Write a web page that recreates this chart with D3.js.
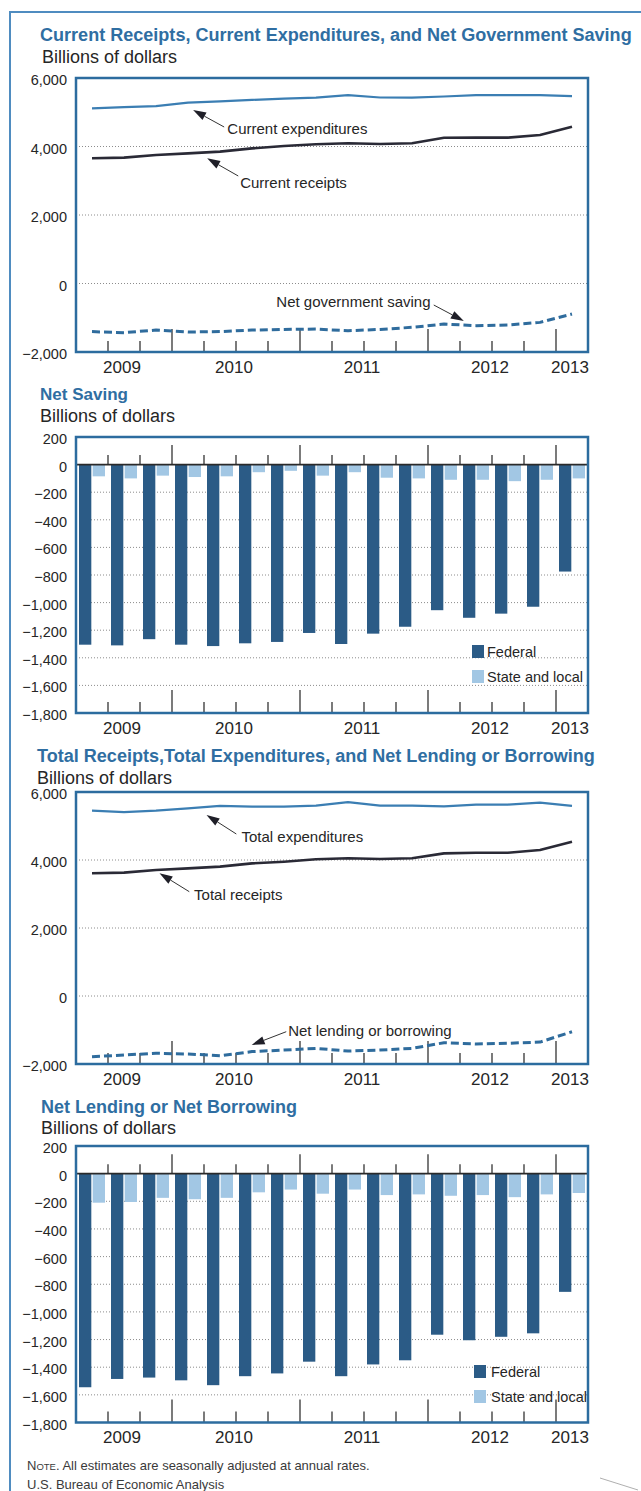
<!DOCTYPE html>
<html>
<head>
<meta charset="utf-8">
<script src="https://cdn.jsdelivr.net/npm/d3@7"></script>
<style>
  body { margin: 0; background: #fff; }
  svg { display: block; font-family: "Liberation Sans", Arial, sans-serif; }
</style>
</head>
<body>
<svg id="chart"></svg>
<script>
// quarters shown, 2009Q2 .. 2013Q1
const quarters = ["2009Q2", "2009Q3", "2009Q4", "2010Q1", "2010Q2", "2010Q3", "2010Q4", "2011Q1",
                  "2011Q2", "2011Q3", "2011Q4", "2012Q1", "2012Q2", "2012Q3", "2012Q4", "2013Q1"];
const series = ["Federal", "State and local"];

// panel 1 (billions of dollars)
const currentExpenditures = [5115, 5150, 5180, 5280, 5320, 5360, 5400, 5425, 5500, 5430, 5425, 5460, 5500, 5500, 5500, 5470];
const currentReceipts = [3655, 3675, 3750, 3800, 3850, 3945, 4015, 4065, 4095, 4075, 4095, 4255, 4260, 4260, 4335, 4580];
const netGovSaving = [-1405, -1435, -1360, -1415, -1405, -1360, -1340, -1330, -1380, -1340, -1280, -1185, -1230, -1210, -1135, -890];

// panel 2
const netSavingFederal = [-1305, -1310, -1265, -1305, -1315, -1295, -1285, -1220, -1300, -1225, -1175, -1055, -1110, -1080, -1030, -775];
const netSavingState = [-85, -100, -80, -90, -85, -55, -45, -80, -55, -95, -100, -110, -110, -120, -110, -100];

// panel 3
const totalExpenditures = [5450, 5410, 5450, 5520, 5590, 5570, 5570, 5600, 5700, 5600, 5600, 5580, 5630, 5630, 5690, 5590];
const totalReceipts = [3610, 3630, 3705, 3755, 3805, 3900, 3950, 4020, 4050, 4030, 4050, 4195, 4215, 4215, 4295, 4540];
const netLending = [-1785, -1735, -1685, -1705, -1755, -1635, -1590, -1540, -1620, -1590, -1540, -1375, -1410, -1390, -1355, -1050];

// panel 4
const netLendingFederal = [-1545, -1485, -1475, -1495, -1530, -1465, -1445, -1360, -1465, -1380, -1350, -1165, -1205, -1180, -1155, -855];
const netLendingState = [-210, -205, -175, -185, -175, -135, -115, -145, -115, -155, -150, -160, -155, -170, -150, -140];

const lineTicks = [-2000, 0, 2000, 4000, 6000];
const barTicks = [200, 0, -200, -400, -600, -800, -1000, -1200, -1400, -1600, -1800];

const titleBlue = "#2f6ea2";
const frameBlue = "#2c6c9f";
const ink = "#262626";
const fedColor = "#2b5b86";
const stateColor = "#a2c7e4";

const W = 641, H = 1491;
const svg = d3.select("#chart").attr("width", W).attr("height", H);
svg.append("rect").attr("width", W).attr("height", H).attr("fill", "#fff");

// outer page frame
svg.append("path")
  .attr("d", `M10,${H}V12H${W}`)
  .attr("fill", "none")
  .attr("stroke", "#4f8cc0")
  .attr("stroke-width", 2);

const x = d3.scaleBand().domain(quarters).range([76, 588]);
const xq = q => x(quarters[0]) + x.bandwidth() / 2 + q * x.step();
const fmt = d3.format(",");

function header(title, tx, ty, width, sx, sy) {
  const t = svg.append("text")
    .attr("x", tx).attr("y", ty)
    .attr("font-family", "'Liberation Sans Narrow', 'Liberation Sans', sans-serif")
    .attr("font-weight", "bold")
    .attr("font-size", 20)
    .attr("fill", titleBlue)
    .text(title);
  // size the title so it spans the same width as in the print
  const w = t.node().getComputedTextLength();
  if (w > 0) t.attr("font-size", Math.min(22, 20 * width / w));
  svg.append("text")
    .attr("x", sx).attr("y", sy)
    .attr("font-size", 18)
    .attr("fill", ink)
    .text("Billions of dollars");
}

function axes(g, y, ticks, zeroTicks) {
  const [bottom, top] = y.range();

  // dotted grid
  g.append("g")
    .selectAll("line")
    .data(ticks.filter(t => t !== y.domain()[0] && t !== y.domain()[1] && !(zeroTicks && t === 0)))
    .join("line")
    .attr("x1", 76).attr("x2", 588)
    .attr("y1", d => y(d)).attr("y2", d => y(d))
    .attr("stroke", "#8c8c8c")
    .attr("stroke-width", 1)
    .attr("stroke-dasharray", "1,2");

  const ax = g.append("g")
    .attr("transform", "translate(76,0)")
    .call(d3.axisLeft(y).tickValues(ticks).tickSize(0).tickPadding(9).tickFormat(fmt));
  ax.select(".domain").remove();
  ax.selectAll("text")
    .attr("font-size", 14.5)
    .attr("font-family", "'Liberation Sans', Arial, sans-serif")
    .attr("fill", ink)
    .attr("dy", "0.45em");

  // quarter ticks at the bottom, taller at year breaks
  const edges = quarters.slice(1);
  g.append("g")
    .selectAll("line")
    .data(edges)
    .join("line")
    .attr("x1", d => x(d)).attr("x2", d => x(d))
    .attr("y1", bottom)
    .attr("y2", d => bottom - (d.endsWith("Q1") ? 23 : 11))
    .attr("stroke", "#222")
    .attr("stroke-width", 1.2);

  if (zeroTicks) {
    g.append("g")
      .selectAll("line")
      .data(edges)
      .join("line")
      .attr("x1", d => x(d)).attr("x2", d => x(d))
      .attr("y1", y(0))
      .attr("y2", d => y(0) - (d.endsWith("Q1") ? 19.5 : 9.5))
      .attr("stroke", "#222")
      .attr("stroke-width", 1.2);
  }

  // year labels centred under their quarters
  const years = d3.groups(quarters, d => d.slice(0, 4));
  g.append("g")
    .selectAll("text")
    .data(years)
    .join("text")
    .attr("x", ([, qs]) => (x(qs[0]) + x(qs[qs.length - 1]) + x.bandwidth()) / 2 - 2)
    .attr("y", bottom + 20.5)
    .attr("text-anchor", "middle")
    .attr("font-size", 17)
    .attr("fill", ink)
    .text(([yr]) => yr);
}

function frame(g, y) {
  const [bottom, top] = y.range();
  g.append("rect")
    .attr("x", 76).attr("y", top)
    .attr("width", 512).attr("height", bottom - top)
    .attr("fill", "none")
    .attr("stroke", frameBlue)
    .attr("stroke-width", 2.5);
}

function arrow(g, tail, tip) {
  const [x1, y1] = tail, [x2, y2] = tip;
  const a = Math.atan2(y2 - y1, x2 - x1);
  const L = 13, hw = 4.2;
  const bx = x2 - L * Math.cos(a), by = y2 - L * Math.sin(a);
  g.append("line")
    .attr("x1", x1).attr("y1", y1).attr("x2", bx).attr("y2", by)
    .attr("stroke", "#333").attr("stroke-width", 1);
  g.append("path")
    .attr("d", `M${x2},${y2}L${bx + hw * Math.sin(a)},${by - hw * Math.cos(a)}L${bx - hw * Math.sin(a)},${by + hw * Math.cos(a)}Z`)
    .attr("fill", "#1f1f28");
}

function linePanel(y, lines, notes) {
  const g = svg.append("g");
  axes(g, y, lineTicks, false);

  const line = d3.line().x((d, i) => x(quarters[i]) + x.bandwidth() / 2).y(d => y(d));
  lines.forEach(s => {
    g.append("path")
      .datum(s.values)
      .attr("fill", "none")
      .attr("stroke", s.color)
      .attr("stroke-width", s.width)
      .attr("stroke-dasharray", s.dash || null)
      .attr("stroke-linejoin", "round")
      .attr("d", line);
  });

  notes.forEach(n => {
    arrow(g, [xq(n.tail[0]), y(n.tail[1])], [xq(n.tip[0]), y(n.tip[1])]);
    g.append("text")
      .attr("x", xq(n.at[0]))
      .attr("y", y(n.at[1]) + 5.5)
      .attr("text-anchor", n.anchor || "start")
      .attr("font-size", 15)
      .attr("fill", ink)
      .text(n.label);
  });

  frame(g, y);
}

function barPanel(y, fed, state, legend) {
  const g = svg.append("g");
  axes(g, y, barTicks, true);

  const inner = d3.scaleBand().domain(series).range([3, x.bandwidth() - 3]).paddingInner(0.1);
  const rows = quarters.map((q, i) => ({ q, vals: [fed[i], state[i]] }));
  const color = d3.scaleOrdinal().domain(series).range([fedColor, stateColor]);

  g.append("g")
    .selectAll("g")
    .data(rows)
    .join("g")
    .attr("transform", d => `translate(${x(d.q)},0)`)
    .selectAll("rect")
    .data(d => d.vals.map((v, j) => ({ key: series[j], v })))
    .join("rect")
    .attr("x", d => inner(d.key))
    .attr("width", inner.bandwidth())
    .attr("y", d => y(Math.max(0, d.v)))
    .attr("height", d => Math.abs(y(d.v) - y(0)))
    .attr("fill", d => color(d.key));

  // zero line
  g.append("line")
    .attr("x1", 76).attr("x2", 588)
    .attr("y1", y(0)).attr("y2", y(0))
    .attr("stroke", "#2a2a2a")
    .attr("stroke-width", 1.6);

  const lg = g.append("g")
    .selectAll("g")
    .data(series)
    .join("g")
    .attr("transform", (d, i) => `translate(${legend.x},${legend.y + i * 25})`);
  lg.append("rect").attr("width", 12).attr("height", 13).attr("fill", d => color(d));
  lg.append("text")
    .attr("x", legend.dx).attr("y", 11.5)
    .attr("font-size", 14.5)
    .attr("fill", ink)
    .text(d => d);

  frame(g, y);
}

// ---- panel 1
header("Current Receipts, Current Expenditures, and Net Government Saving", 40, 41, 592, 42, 63);
const y1 = d3.scaleLinear().domain([-2000, 6000]).range([352, 78]);
linePanel(y1, [
  { values: currentExpenditures, color: "#3b7eb3", width: 2.2 },
  { values: currentReceipts, color: "#2a2a36", width: 2.6 },
  { values: netGovSaving, color: "#2f6c9d", width: 3, dash: "8,4" }
], [
  { label: "Current expenditures", tip: [3.16, 5066], tail: [4.13, 4569], at: [4.23, 4526] },
  { label: "Current receipts", tip: [3.6, 3655], tail: [4.57, 3139], at: [4.63, 2963] },
  { label: "Net government saving", tip: [11.62, -1095], tail: [10.68, -628], at: [10.58, -540], anchor: "end" }
]);

// ---- panel 2
header("Net Saving", 40, 400, 88, 40, 422);
const y2 = d3.scaleLinear().domain([-1800, 200]).range([713, 437]);
barPanel(y2, netSavingFederal, netSavingState, { x: 472, y: 645, dx: 15 });

// ---- panel 3
header("Total Receipts,Total Expenditures, and Net Lending or Borrowing", 37, 762, 558, 37, 784);
const y3 = d3.scaleLinear().domain([-2000, 6000]).range([1064, 792]);
linePanel(y3, [
  { values: totalExpenditures, color: "#3b7eb3", width: 2.2 },
  { values: totalReceipts, color: "#2a2a36", width: 2.6 },
  { values: netLending, color: "#2f6c9d", width: 3, dash: "8,4" }
], [
  { label: "Total expenditures", tip: [3.58, 5324], tail: [4.51, 4765], at: [4.67, 4685] },
  { label: "Total receipts", tip: [2.11, 3609], tail: [3.04, 3068], at: [3.19, 3000] },
  { label: "Net lending or borrowing", tip: [4.99, -1441], tail: [6.07, -1050], at: [6.13, -1000] }
]);

// ---- panel 4
header("Net Lending or Net Borrowing", 41, 1113, 256, 41, 1134);
const y4 = d3.scaleLinear().domain([-1800, 200]).range([1422.5, 1146]);
barPanel(y4, netLendingFederal, netLendingState, { x: 474, y: 1365, dx: 17 });

// ---- note and source
const note = svg.append("text").attr("x", 27).attr("y", 1469.5).attr("fill", "#3a3a3a").attr("font-size", 13);
note.append("tspan").text("N");
note.append("tspan").attr("font-size", 9.5).text("OTE");
note.append("tspan").text(". All estimates are seasonally adjusted at annual rates.");
svg.append("text").attr("x", 27).attr("y", 1488.5).attr("fill", "#3a3a3a").attr("font-size", 13)
  .text("U.S. Bureau of Economic Analysis");

// small scan mark, bottom right
svg.append("path").attr("d", "M600,1478L638,1490").attr("stroke", "#9a9a9a").attr("stroke-width", 0.8);
</script>
</body>
</html>
